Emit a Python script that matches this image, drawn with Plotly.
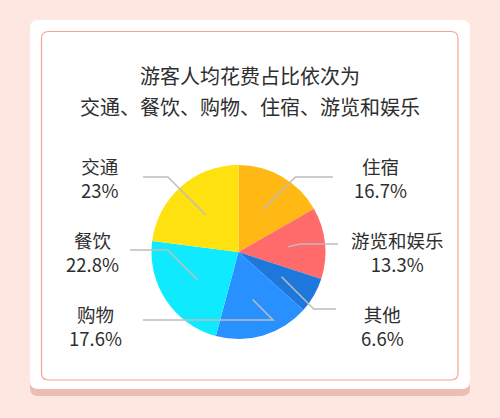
import math
import plotly.graph_objects as go

W, H = 500, 418

# data (clockwise from 12 o'clock)
categories = ['住宿', '游览和娱乐', '其他', '购物', '餐饮', '交通']
shares = [16.7, 13.3, 6.6, 17.6, 22.8, 23]
pct_labels = ['16.7%', '13.3%', '6.6%', '17.6%', '22.8%', '23%']
colors = ['#FFB814', '#FF6B6B', '#1E78DC', '#2990FF', '#10EAFF', '#FFE110']

title_lines = ['游客人均花费占比依次为', '交通、餐饮、购物、住宿、游览和娱乐']

# label layout in pixels: text centre x, text centre y, leader line y, leader end x
label_x = [380, 397, 382, 95, 92, 100]
label_y = [178.5, 251.5, 326, 326, 251.5, 178.5]
line_y = [177, 244, 309, 320, 250, 177]
line_end_x = [333, 338, 336, 143, 130, 143]

FONT = 'Noto Sans CJK SC'
cx, cy, r = 238.5, 252, 87


def px(x):
    return x / W


def py(y):
    return 1 - y / H


def rrect(x0, y0, x1, y1, rad):
    # rounded rectangle path in paper coords
    pts = [
        f'M{px(x0 + rad)},{py(y0)}',
        f'L{px(x1 - rad)},{py(y0)}',
        f'Q{px(x1)},{py(y0)} {px(x1)},{py(y0 + rad)}',
        f'L{px(x1)},{py(y1 - rad)}',
        f'Q{px(x1)},{py(y1)} {px(x1 - rad)},{py(y1)}',
        f'L{px(x0 + rad)},{py(y1)}',
        f'Q{px(x0)},{py(y1)} {px(x0)},{py(y1 - rad)}',
        f'L{px(x0)},{py(y0 + rad)}',
        f'Q{px(x0)},{py(y0)} {px(x0 + rad)},{py(y0)}',
        'Z',
    ]
    return ' '.join(pts)


fig = go.Figure()

fig.add_trace(go.Pie(
    labels=categories,
    values=shares,
    sort=False,
    direction='clockwise',
    rotation=0,
    marker=dict(colors=colors, line=dict(width=0)),
    textinfo='none',
    hoverinfo='skip',
    domain=dict(x=[px(cx - r), px(cx + r)], y=[py(cy + r), py(cy - r)]),
))

shapes = [
    dict(type='path', path=rrect(30, 26, 470, 396, 8), fillcolor='#EEBDB1',
         line=dict(width=0), xref='paper', yref='paper', layer='below'),
    dict(type='path', path=rrect(30, 20, 470, 389, 8), fillcolor='#FFFFFF',
         line=dict(width=0), xref='paper', yref='paper', layer='below'),
    dict(type='path', path=rrect(41.5, 31.5, 458, 380, 7), fillcolor='rgba(0,0,0,0)',
         line=dict(color='#F6A28E', width=1.2), xref='paper', yref='paper', layer='below'),
]

annotations = []
for i, line in enumerate(title_lines):
    annotations.append(dict(
        text=line, x=0.5, y=py(75 + 32 * i), xref='paper', yref='paper',
        xanchor='center', yanchor='middle', showarrow=False,
        font=dict(family=FONT, size=20, color='#2E2E2E'),
    ))

total = sum(shares)
cum = 0
for i, v in enumerate(shares):
    theta = math.radians(360 * (cum + v / 2) / total)
    cum += v
    sx = cx + 0.57 * r * math.sin(theta)
    sy = cy - 0.57 * r * math.cos(theta)
    side = 1 if math.sin(theta) > 0 else -1
    ey = line_y[i]
    ex = sx + side * max(abs(ey - sy), 12)
    path = f'M{px(sx)},{py(sy)} L{px(ex)},{py(ey)} L{px(line_end_x[i])},{py(ey)}'
    shapes.append(dict(type='path', path=path, xref='paper', yref='paper',
                       line=dict(color='#BDBDBD', width=1.5), layer='above'))
    annotations.append(dict(
        text=f'{categories[i]}<br>{pct_labels[i]}', x=px(label_x[i]), y=py(label_y[i]),
        xref='paper', yref='paper', xanchor='center', yanchor='middle',
        align='center', showarrow=False,
        font=dict(family=FONT, size=18.5, color='#2E2E2E'),
    ))

fig.update_layout(
    width=W, height=H,
    margin=dict(l=0, r=0, t=0, b=0),
    paper_bgcolor='#FEE6E1',
    plot_bgcolor='rgba(0,0,0,0)',
    showlegend=False,
    shapes=shapes,
    annotations=annotations,
)

fig.write_html(
    'out.html',
    config={'displayModeBar': False},
    post_script="document.body.style.margin='0';document.body.style.background='#FEE6E1';",
)
